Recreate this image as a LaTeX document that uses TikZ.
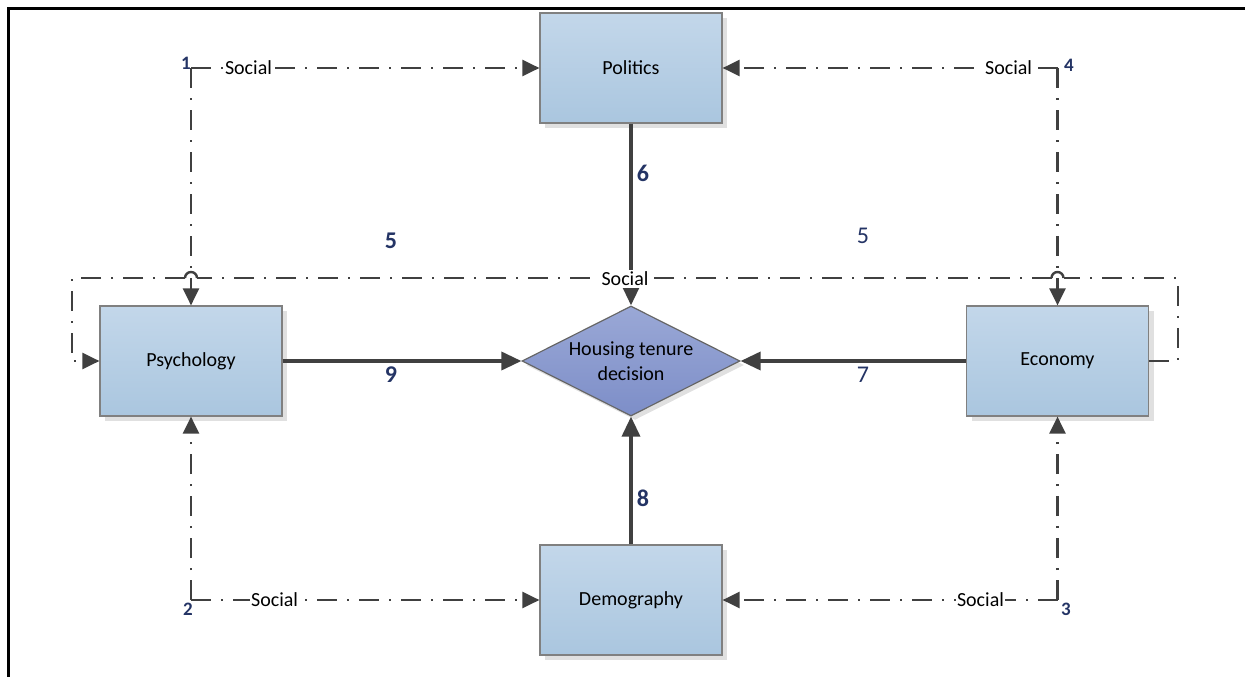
\documentclass[tikz,border=0pt]{standalone}
\usepackage{fontspec}
\setmainfont{Carlito}
\usetikzlibrary{arrows.meta,shapes.geometric,shadows}
\definecolor{lin}{HTML}{404040}
\definecolor{boxtop}{HTML}{C3D7EA}
\definecolor{boxbot}{HTML}{AAC6DF}
\definecolor{dtop}{HTML}{9AA8D6}
\definecolor{dbot}{HTML}{7D8EC8}
\definecolor{numc}{HTML}{243465}
\definecolor{bord}{HTML}{808080}
\begin{document}
\begin{tikzpicture}[x=1pt,y=-1pt,
  factor/.style={draw=bord, line width=1.2pt, top color=boxtop, bottom color=boxbot,
    minimum width=182pt, minimum height=110pt, inner sep=0pt,
    font=\fontsize{20}{24}\selectfont,
    drop shadow={shadow xshift=5pt, shadow yshift=-5pt, fill=black!12, opacity=1}},
  decision/.style={diamond, draw=black!60, line width=1.2pt, top color=dtop, bottom color=dbot,
    minimum width=218pt, minimum height=110pt, inner sep=0pt, aspect=2,
    drop shadow={shadow xshift=4pt, shadow yshift=-4pt, fill=black!12, opacity=1}},
  soc/.style={draw=lin, line width=2.4pt, dash pattern=on 20pt off 10pt on 2pt off 10pt},
  socarrow/.style={soc, -{Triangle[length=17pt,width=16pt]}},
  mainarrow/.style={draw=lin, line width=3.5pt, -{Triangle[length=20pt,width=18pt]}},
  soclab/.style={fill=white, inner sep=1.5pt, font=\fontsize{20}{24}\selectfont},
  bignum/.style={text=numc, inner sep=0pt, font=\bfseries\fontsize{24}{28}\selectfont},
  bignumlight/.style={text=numc, inner sep=0pt, font=\fontsize{24}{28}\selectfont},
  smallnum/.style={text=numc, inner sep=0pt, font=\bfseries\fontsize{19}{22}\selectfont},
  hop/.style={draw=lin, line width=2.4pt}
]
\useasboundingbox (0,0) rectangle (1245,677);
% frame
\draw[line width=3pt] (8,677) -- (8,9) -- (1245,9);

% nodes
\node[factor] (pol) at (631,68) {Politics};
\node[factor] (psy) at (191,361) {Psychology};
\node[factor] (eco) at (1057.5,361) {Economy};
\node[factor] (dem) at (631,600) {Demography};
\node[decision, label={[align=center, font=\fontsize{20}{25}\selectfont]center:Housing tenure\\decision}] (hou) at (631,361) {};

% corner coordinates
\coordinate (c1) at (191,68);
\coordinate (c2) at (191,600);
\coordinate (c3) at (1057.5,600);
\coordinate (c4) at (1057.5,68);
\coordinate (lt) at (72,278);
\coordinate (lb) at (72,361);
\coordinate (rt) at (1178,278);
\coordinate (rb) at (1178,361);
\coordinate (h4a) at (1063.5,278);
\coordinate (h4b) at (1051.5,278);
\coordinate (h1a) at (197,278);
\coordinate (h1b) at (185,278);

% solid influences
\draw[mainarrow] (psy.east) -- (hou.west);
\draw[mainarrow] (eco.west) -- (hou.east);
\draw[mainarrow] (dem.north) -- (hou.south);
\draw[mainarrow] (pol.south) -- (hou.north);

% social links
\draw[socarrow] (c1) -- node[soclab, pos=0.165] {Social} (pol.west);
\draw[socarrow] (c1) -- (psy.north);
\draw[socarrow] (c4) -- node[soclab, pos=0.146] {Social} (pol.east);
\draw[socarrow] (c4) -- (eco.north);
\draw[socarrow] (c2) -- node[soclab, pos=0.24] {Social} (dem.west);
\draw[socarrow] (c2) -- (psy.south);
\draw[socarrow] (c3) -- node[soclab, pos=0.23] {Social} (dem.east);
\draw[socarrow] (c3) -- (eco.south);

% loop 5
\draw[soc] (eco.east) -- (rb) -- (rt) -- (h4a);
\draw[soc] (h4b) -- (h1a);
\draw[socarrow] (h1b) -- (lt) -- (lb) -- (psy.west);
\draw[hop] (h4a) arc[start angle=0, end angle=180, radius=6pt];
\draw[hop] (h1a) arc[start angle=0, end angle=180, radius=6pt];
\node[soclab] (s5) at (625,279) {Social};

% numbers
\node[smallnum] (n1) at (186,63) {1};
\node[smallnum] (n2) at (188,609) {2};
\node[smallnum] (n3) at (1066,609) {3};
\node[smallnum] (n4) at (1069,65) {4};
\node[bignum] (n5a) at (391,241) {5};
\node[bignumlight] (n5b) at (863,236) {5};
\node[bignum] (n6) at (643,173) {6};
\node[bignumlight] (n7) at (863,375) {7};
\node[bignum] (n8) at (643,498) {8};
\node[bignum] (n9) at (391,375) {9};
\end{tikzpicture}
\end{document}
